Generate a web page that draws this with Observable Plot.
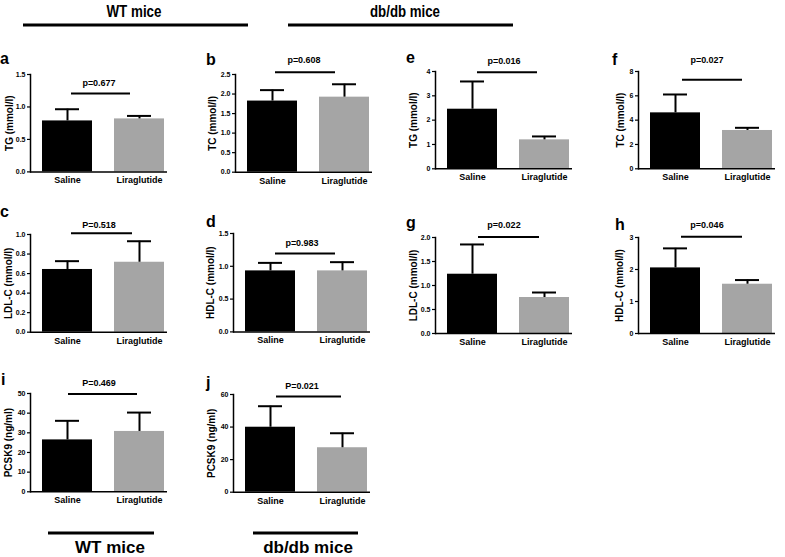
<!DOCTYPE html>
<html><head><meta charset="utf-8">
<script src="https://cdn.jsdelivr.net/npm/d3@7"></script>
<script src="https://cdn.jsdelivr.net/npm/@observablehq/plot@0.6"></script>
<style>
html,body{margin:0;padding:0;background:#fff;overflow:hidden}
#root{position:relative;width:785px;height:557px;}
</style></head><body><div id="root"></div>
<script>
// ---------- data ----------
const groups = ["Saline", "Liraglutide"];
const barColors = ["#000000", "#a5a5a5"];
const panelIds = ["a","b","c","d","e","f","g","h","i","j"];
const yLabels = ["TG (mmol/l)","TC (mmol/l)","LDL-C (mmol/l)","HDL-C (mmol/l)","TG (mmol/l)","TC (mmol/l)","LDL-C (mmol/l)","HDL-C (mmol/l)","PCSK9 (ng/ml)","PCSK9 (ng/ml)"];
const salineMean = [0.785, 1.82, 0.642, 0.93, 2.45, 4.60, 1.235, 2.05, 26.4, 39.9];
const salineSD   = [0.18, 0.28, 0.085, 0.122, 1.14, 1.51, 0.62, 0.61, 9.7, 12.9];
const liraMean   = [0.816, 1.92, 0.716, 0.93, 1.19, 3.15, 0.75, 1.54, 30.7, 27.3];
const liraSD     = [0.046, 0.33, 0.215, 0.133, 0.14, 0.22, 0.104, 0.13, 9.6, 8.9];
const pLabels = ["p=0.677","p=0.608","P=0.518","p=0.983","p=0.016","p=0.027","p=0.022","p=0.046","P=0.469","P=0.021"];
const sigLevel = [1.207, 2.56, 1.013, 1.195, 3.97, 7.32, 2.01, 3.02, 49.7, 58.8];
const yTicks = [
  [0,0.5,1,1.5],[0,0.5,1,1.5,2,2.5],[0,0.2,0.4,0.6,0.8,1],[0,0.5,1,1.5],
  [0,1,2,3,4],[0,2,4,6,8],[0,0.5,1,1.5,2],[0,1,2,3],[0,10,20,30,40,50],[0,20,40,60]
];
const tickFormats = [".1f",".1f",".1f",".1f","d","d",".1f","d","d","d"];
const headerLabels = ["WT mice", "db/db mice"];

// ---------- layout (pixels) ----------
const FONT = '"Liberation Sans", Arial, Helvetica, sans-serif';
const layout = {
  a:{ax:30,  top:74.3,  zero:171.7, lab:-20.5, pdy:-10.6, inL:29, inR:34, lx:0,   ly:64},
  b:{ax:235, top:74,    zero:171.7, lab:-23,   pdy:-11.7, inL:28, inR:34, lx:206, ly:65},
  c:{ax:30,  top:234,   zero:331.7, lab:-22,   pdy:-7.7,  inL:29, inR:32, lx:0,   ly:217},
  d:{ax:233, top:233.3, zero:331.7, lab:-23,   pdy:-10.3, inL:30, inR:32, lx:206, ly:227},
  e:{ax:435, top:71,    zero:168.3, lab:-22,   pdy:-11,   inL:30, inR:32, lx:406, ly:63},
  f:{ax:638, top:71,    zero:168.3, lab:-18,   pdy:-19.3, inL:32, inR:30, lx:612, ly:65},
  g:{ax:435, top:237.3, zero:333.3, lab:-22,   pdy:-11.7, inL:31, inR:30, lx:406, ly:228},
  h:{ax:638, top:237.3, zero:333.3, lab:-18.5, pdy:-11.7, inL:31, inR:30, lx:615, ly:230},
  i:{ax:30,  top:392.7, zero:491,   lab:-22,   pdy:-10.6, inL:26, inR:27, lx:1,   ly:385},
  j:{ax:233, top:394,   zero:491.7, lab:-21.5, pdy:-10,   inL:31, inR:26, lx:206, ly:388}
};

const root = document.getElementById("root");

panelIds.forEach((id, k) => {
  const L = layout[id];
  const rows = groups.map((g, j) => ({
    group: g,
    mean: j ? liraMean[k] : salineMean[k],
    sd: j ? liraSD[k] : salineSD[k]
  }));
  const mL = 34, mR = 8, mT = 30, mB = 24, fw = 137;
  const inner = L.zero - L.top;
  const ticks = yTicks[k];
  const svg = Plot.plot({
    width: mL + fw + mR,
    height: mT + inner + mB,
    marginLeft: mL, marginRight: mR, marginTop: mT, marginBottom: mB,
    style: {fontFamily: FONT, fontWeight: "bold", background: "transparent", color: "#000", overflow: "visible"},
    x: {domain: groups, range: [mL + 11, mL + 135], paddingInner: 0.3, paddingOuter: 0},
    y: {domain: [0, ticks[ticks.length - 1]], range: [mT + inner, mT]},
    color: {domain: groups, range: barColors},
    marks: [
      Plot.barY(rows, {x: "group", y: "mean", fill: "group"}),
      Plot.ruleX(rows, {x: "group", y1: "mean", y2: d => d.mean + d.sd, stroke: "#000", strokeWidth: 2}),
      Plot.tickY(rows, {x: "group", y: d => d.mean + d.sd, stroke: "#000", strokeWidth: 2, insetLeft: 13, insetRight: 13}),
      Plot.ruleY([0], {strokeWidth: 1.5}),
      Plot.frame({anchor: "left", strokeWidth: 1.5}),
      Plot.axisY({ticks: ticks, tickFormat: tickFormats[k], tickSize: 3, tickPadding: 2, fontSize: 7, label: null, strokeWidth: 1.2}),
      Plot.axisX({tickSize: 0, tickPadding: 5, fontSize: 9, label: null}),
      Plot.text([yLabels[k]], {text: d => d, frameAnchor: "left", textAnchor: "middle", lineAnchor: "middle", rotate: -90, dx: L.lab, fontSize: 10}),
      Plot.ruleY([{y: sigLevel[k], a: groups[0], b: groups[1]}], {y: "y", x1: "a", x2: "b", strokeWidth: 2, insetLeft: L.inL, insetRight: L.inR}),
      Plot.text([{y: sigLevel[k], t: pLabels[k]}], {y: "y", text: "t", frameAnchor: "middle", textAnchor: "middle", dy: L.pdy, fontSize: 9})
    ]
  });
  svg.style.position = "absolute";
  svg.style.left = (L.ax - mL) + "px";
  svg.style.top = (L.top - mT) + "px";
  svg.style.maxWidth = "none";
  root.appendChild(svg);
});

// ---------- overlay: group headers, panel letters ----------
const ov = d3.select(root).append("svg")
  .attr("width", 785).attr("height", 557)
  .style("position", "absolute").style("left", "0px").style("top", "0px")
  .style("pointer-events", "none")
  .style("font-family", FONT).style("font-weight", "bold");

const headers = [
  {t: headerLabels[0], cx: 134, y: 17, len: 55, x1: 23, x2: 248, ly: 25, fs: 16},
  {t: headerLabels[1], cx: 405, y: 17, len: 70, x1: 288, x2: 513, ly: 25, fs: 16}
];
headers.forEach(h => {
  ov.append("text").attr("x", h.cx - h.len / 2).attr("y", h.y).attr("font-size", h.fs)
    .attr("textLength", h.len).attr("lengthAdjust", "spacingAndGlyphs").text(h.t);
  ov.append("line").attr("x1", h.x1).attr("x2", h.x2).attr("y1", h.ly).attr("y2", h.ly)
    .attr("stroke", "#000").attr("stroke-width", 3);
});
const footers = [
  {t: headerLabels[0], cx: 110, x1: 48, x2: 154},
  {t: headerLabels[1], cx: 308, x1: 253, x2: 358}
];
footers.forEach(f => {
  ov.append("line").attr("x1", f.x1).attr("x2", f.x2).attr("y1", 533).attr("y2", 533)
    .attr("stroke", "#000").attr("stroke-width", 3);
  ov.append("text").attr("x", f.cx).attr("y", 553).attr("text-anchor", "middle")
    .attr("font-size", 17).text(f.t);
});
panelIds.forEach(id => {
  const L = layout[id];
  ov.append("text").attr("x", L.lx).attr("y", L.ly).attr("font-size", 16).text(id);
});
</script>
</body></html>
